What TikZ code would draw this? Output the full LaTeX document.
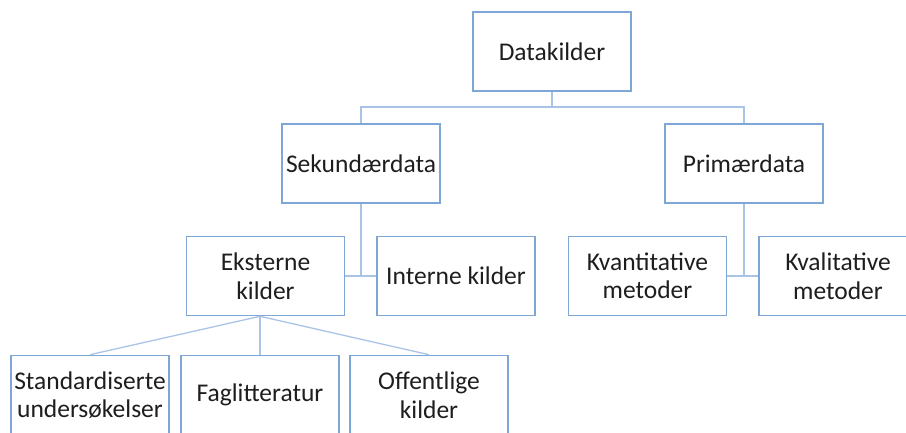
\documentclass[tikz,border=0pt]{standalone}
\usepackage{fontspec}
\setmainfont{Carlito}
\definecolor{boxblue}{HTML}{7EA6D6}
\definecolor{lineblue}{HTML}{A9C4E6}
\definecolor{textgray}{HTML}{1E1E1E}
\tikzset{
  box/.style={draw=boxblue, line width=1.6pt, fill=white, minimum width=158pt,
    minimum height=79pt, inner sep=0pt, align=center, text=textgray,
    font=\fontsize{25.5}{28.5}\selectfont},
  link/.style={draw=lineblue, line width=1.3pt}
}

\begin{document}
\begin{tikzpicture}[x=1pt,y=-1pt]
  \clip (0,0) rectangle (906,432);
  \useasboundingbox (0,0) rectangle (906,432);
  % connectors first, boxes on top
  \coordinate (split) at (552,107);
  \node[box] (data) at (552,51.5) {Datakilder};
  \node[box] (sek) at (361,163.5) {Sekundærdata};
  \node[box] (prim) at (744,163.5) {Primærdata};
  \node[box] (ekst) at (265.5,276) {Eksterne\\kilder};
  \node[box] (intern) at (456,276) {Interne kilder};
  \node[box] (kvant) at (647.5,276) {Kvantitative\\metoder};
  \node[box] (kval) at (838,276) {Kvalitative\\metoder};
  \node[box] (std) at (90,395) {Standardiserte\\undersøkelser};
  \node[box] (fag) at (260,395) {Faglitteratur};
  \node[box] (off) at (429,395) {Offentlige\\kilder};

  \draw[link] (data.south) -- (split) -| (sek.north);
  \draw[link] (split) -| (prim.north);
  \draw[link] (sek.south) -- (sek.south |- ekst.east);
  \draw[link] (ekst.east) -- (intern.west);
  \draw[link] (prim.south) -- (prim.south |- kvant.east);
  \draw[link] (kvant.east) -- (kval.west);
  \draw[link] (fag.north |- ekst.south) -- (std.north);
  \draw[link] (fag.north |- ekst.south) -- (fag.north);
  \draw[link] (fag.north |- ekst.south) -- (off.north);
\end{tikzpicture}
\end{document}
